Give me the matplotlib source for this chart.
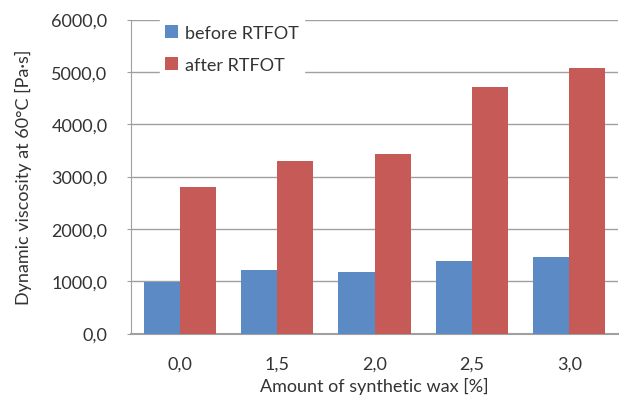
import matplotlib
matplotlib.use("Agg")
import matplotlib.pyplot as plt
import numpy as np

categories = ["0,0", "1,5", "2,0", "2,5", "3,0"]
before_rtfot = [990, 1215, 1177, 1387, 1463]
after_rtfot = [2790, 3290, 3427, 4714, 5070]
y_ticks = [0, 1000, 2000, 3000, 4000, 5000, 6000]
y_tick_labels = ["0,0", "1000,0", "2000,0", "3000,0", "4000,0", "5000,0", "6000,0"]

plt.rcParams['font.family'] = ['Lato', 'DejaVu Sans']

fig = plt.figure(figsize=(6.19, 4.02), dpi=100)
ax = fig.add_axes([131/619, 1 - 334.5/402, (618-131)/619, (334.5-20.5)/402])

x = np.arange(len(categories))
w = 0.37
ax.bar(x - w/2, before_rtfot, w, color='#5B8AC5', label='before RTFOT', zorder=3)
ax.bar(x + w/2, after_rtfot, w, color='#C55A57', label='after RTFOT', zorder=3)

txt = '#333333'
ax.set_xlim(-0.5, len(categories) - 0.5)
ax.set_ylim(0, 6000)
ax.set_yticks(y_ticks)
ax.set_yticklabels(y_tick_labels)
ax.set_xticks(x)
ax.set_xticklabels(categories)
ax.tick_params(axis='x', which='major', length=0, pad=16, labelsize=13, colors=txt)
ax.tick_params(axis='y', length=3, color='#A0A0A0', pad=14, labelsize=13, labelcolor=txt)

ax.grid(axis='y', color='#A0A0A0', linewidth=1, zorder=0)
for s in ['top', 'right']:
    ax.spines[s].set_visible(False)
for s in ['left', 'bottom']:
    ax.spines[s].set_color('#A0A0A0')
ax.spines['bottom'].set_linewidth(1.5)

ax.set_ylabel('Dynamic viscosity at 60°C [Pa·s]', fontsize=13, color=txt, labelpad=14)
ax.set_xlabel('Amount of synthetic wax [%]', fontsize=13, color=txt, labelpad=4)

leg = ax.legend(loc='upper left', bbox_to_anchor=(0.04, 1.03), frameon=True, fontsize=13,
                handlelength=0.7, handleheight=0.7, handletextpad=0.4, labelspacing=0.9,
                borderpad=0.3, fancybox=False)
leg.get_frame().set_edgecolor('white')
leg.get_frame().set_facecolor('white')
leg.get_frame().set_alpha(1)
for t in leg.get_texts():
    t.set_color(txt)

fig.savefig('out.png', dpi=100)
